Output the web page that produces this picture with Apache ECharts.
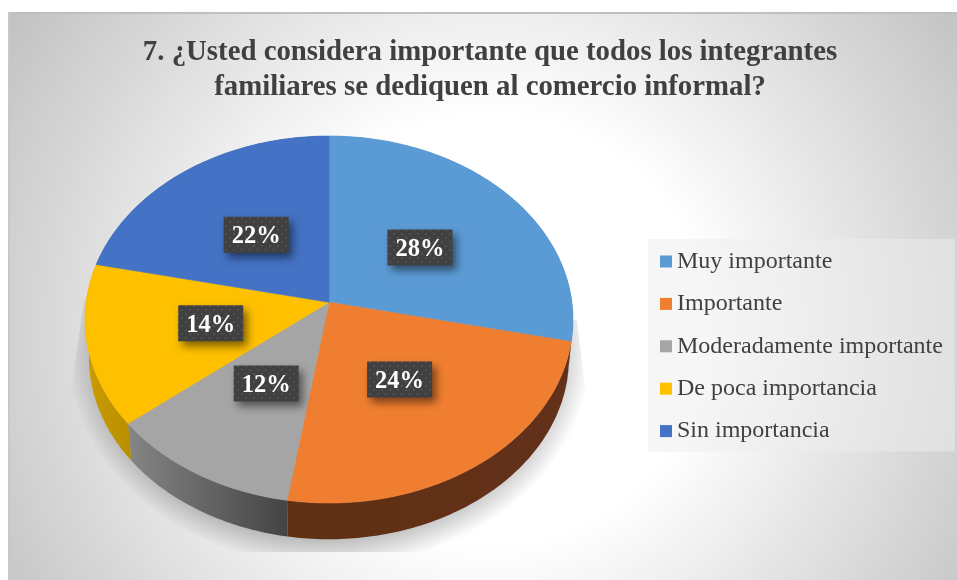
<!DOCTYPE html>
<html>
<head>
<meta charset="utf-8">
<style>html,body{margin:0;padding:0;background:#fff}#c{width:957px;height:580px}</style>
<script src="https://cdn.jsdelivr.net/npm/echarts@6/dist/echarts.min.js"></script>
</head>
<body>
<div id="c"></div>
<script>
var categories = ['Muy importante', 'Importante', 'Moderadamente importante', 'De poca importancia', 'Sin importancia'];
var values = [28.4, 24.1, 11.7, 14.2, 21.6];
var colors = ['#5B9BD5', '#F07E30', '#A5A5A5', '#FFC000', '#4472C4'];
var wallColors = [['#3f6f99', '#3f6f99'], ['#5f3012', '#63311a'], ['#858585', '#444444'], ['#cc9c00', '#b98f00'], ['#2f5597', '#2f5597']];
var titleText = '7. ¿Usted considera importante que todos los integrantes\nfamiliares se dediquen al comercio informal?';

var SERIF = '"Liberation Serif","Times New Roman",serif';
var total = values.reduce(function (a, b) { return a + b; }, 0);
var spans = [], acc = 0;
values.forEach(function (v) { spans.push([acc, acc + v, v]); acc += v; });

// perspective view of the round pie: top face and lower rim
var topFace = { x: 329, y: 302.3, a: 181.9, b: 242.9, k: 0.0938 };
var rimFace = { x: 329, y: 340.4, a: 180.2, b: 239, k: 0.0938 };
function project(f, r, pct) {
  var t = pct / total * Math.PI * 2;
  var u = r * Math.sin(t), v = -r * Math.cos(t), d = 1 - f.k * v;
  return [f.x + f.b * u / d, f.y + f.a * v / d];
}
function arc(f, from, to) {
  var pts = [], n = Math.max(2, Math.ceil((to - from) * 4));
  for (var i = 0; i <= n; i++) pts.push(project(f, 1, from + (to - from) * i / n));
  return pts;
}

var tile = document.createElement('canvas');
tile.width = tile.height = 8;
(function () {
  var g = tile.getContext('2d');
  g.fillStyle = '#404040'; g.fillRect(0, 0, 8, 8);
  g.fillStyle = '#515151'; g.fillRect(1, 1, 2, 2); g.fillRect(5, 5, 2, 2);
})();

function renderTop(idx) {
  return function (params, api) {
    var from = api.value(0), to = api.value(1);
    var pts = [[topFace.x, topFace.y]].concat(arc(topFace, from, to));
    return {
      type: 'polygon', z2: 1,
      shape: { points: pts },
      style: { fill: colors[idx], stroke: colors[idx], lineWidth: 0.6 }
    };
  };
}
function renderLabel(params, api) {
  var c = project(topFace, 0.495, (api.value(0) + api.value(1)) / 2);
  var w = 65, h = 36;
  return {
    type: 'group',
    children: [{
      type: 'rect',
      shape: { x: c[0] - w / 2, y: c[1] - h / 2, width: w, height: h },
      style: {
        fill: { image: tile, repeat: 'repeat' },
        shadowBlur: 8, shadowOffsetX: 4, shadowOffsetY: 5, shadowColor: 'rgba(0,0,0,0.5)'
      }
    }, {
      type: 'text',
      style: {
        x: c[0], y: c[1] + 2.5, text: Math.round(api.value(2)) + '%',
        fill: '#fff', font: 'bold 24.5px ' + SERIF, align: 'center', verticalAlign: 'middle'
      }
    }]
  };
}
function renderWall(params, api) {
  var i = params.dataIndex, from = api.value(0), to = api.value(1);
  var up = arc(topFace, from, to), low = arc(rimFace, from, to).reverse();
  var xs = up.map(function (p) { return p[0]; });
  return {
    type: 'polygon',
    shape: { points: up.concat(low) },
    style: {
      fill: new echarts.graphic.LinearGradient(Math.max.apply(null, xs), 0, Math.min.apply(null, xs), 0,
        [{ offset: 0, color: wallColors[i][1] }, { offset: 1, color: wallColors[i][0] }], true),
      stroke: null
    }
  };
}

var series = [{
  name: 'Lateral', type: 'custom', coordinateSystem: 'none', z: 1, silent: true,
  renderItem: renderWall, data: spans
}];
categories.forEach(function (name, i) {
  series.push({
    name: name, type: 'custom', coordinateSystem: 'none', z: 2, silent: true,
    itemStyle: { color: colors[i] },
    renderItem: renderTop(i), data: [spans[i]]
  });
});
series.push({
  name: 'Etiquetas', type: 'custom', coordinateSystem: 'none', z: 3, silent: true,
  renderItem: renderLabel, data: spans
});

var chart = echarts.init(document.getElementById('c'), null, { renderer: 'canvas' });
var shadowCy = 352, shadowS = 0.82;
var shadowOutline = [[84, 300], [68, 415], [60, 552], [600, 552], [590, 432], [577, 320]].map(function (p) {
  return [p[0], (p[1] - shadowCy) / shadowS];
});
chart.setOption({
  animation: false,
  backgroundColor: '#ffffff',
  color: colors,
  title: {
    text: titleText, left: 485, top: 30, textAlign: 'center',
    textStyle: { fontFamily: SERIF, fontWeight: 'bold', fontSize: 28.8, lineHeight: 35, color: '#404040' }
  },
  legend: {
    show: true, orient: 'vertical', left: 648, top: 239,
    data: categories, selectedMode: false,
    icon: 'rect', itemWidth: 12, itemHeight: 12, itemGap: 16.4,
    padding: [9.5, 12, 7.5, 12],
    backgroundColor: 'rgba(238,238,238,0.5)',
    textStyle: { fontFamily: SERIF, fontSize: 24, lineHeight: 26, color: '#404040' }
  },
  graphic: [{
    type: 'rect', z: -10, silent: true,
    shape: { x: 9, y: 12, width: 948, height: 568 },
    style: {
      fill: new echarts.graphic.RadialGradient(490, 330, 595,
        [{ offset: 0, color: '#ffffff' }, { offset: 0.36, color: '#ffffff' }, { offset: 1, color: '#bebebe' }], true)
    }
  }, {
    type: 'rect', z: -9, silent: true,
    shape: { x: 9, y: 12, width: 948, height: 2 },
    style: { fill: '#bfbfbf' }
  }, {
    type: 'rect', z: -9, silent: true,
    shape: { x: 8, y: 12, width: 2, height: 568 },
    style: { fill: '#c8c8c8' }
  }, {
    type: 'polygon', z: -8, silent: true,
    x: 0, y: shadowCy, scaleY: shadowS,
    shape: { points: shadowOutline },
    style: {
      fill: new echarts.graphic.RadialGradient(329, 0, 262,
        [{ offset: 0, color: 'rgba(0,0,0,0.27)' }, { offset: 0.85, color: 'rgba(0,0,0,0.27)' }, { offset: 1, color: 'rgba(0,0,0,0)' }], true)
    }
  }],
  series: series
});
</script>
</body>
</html>
